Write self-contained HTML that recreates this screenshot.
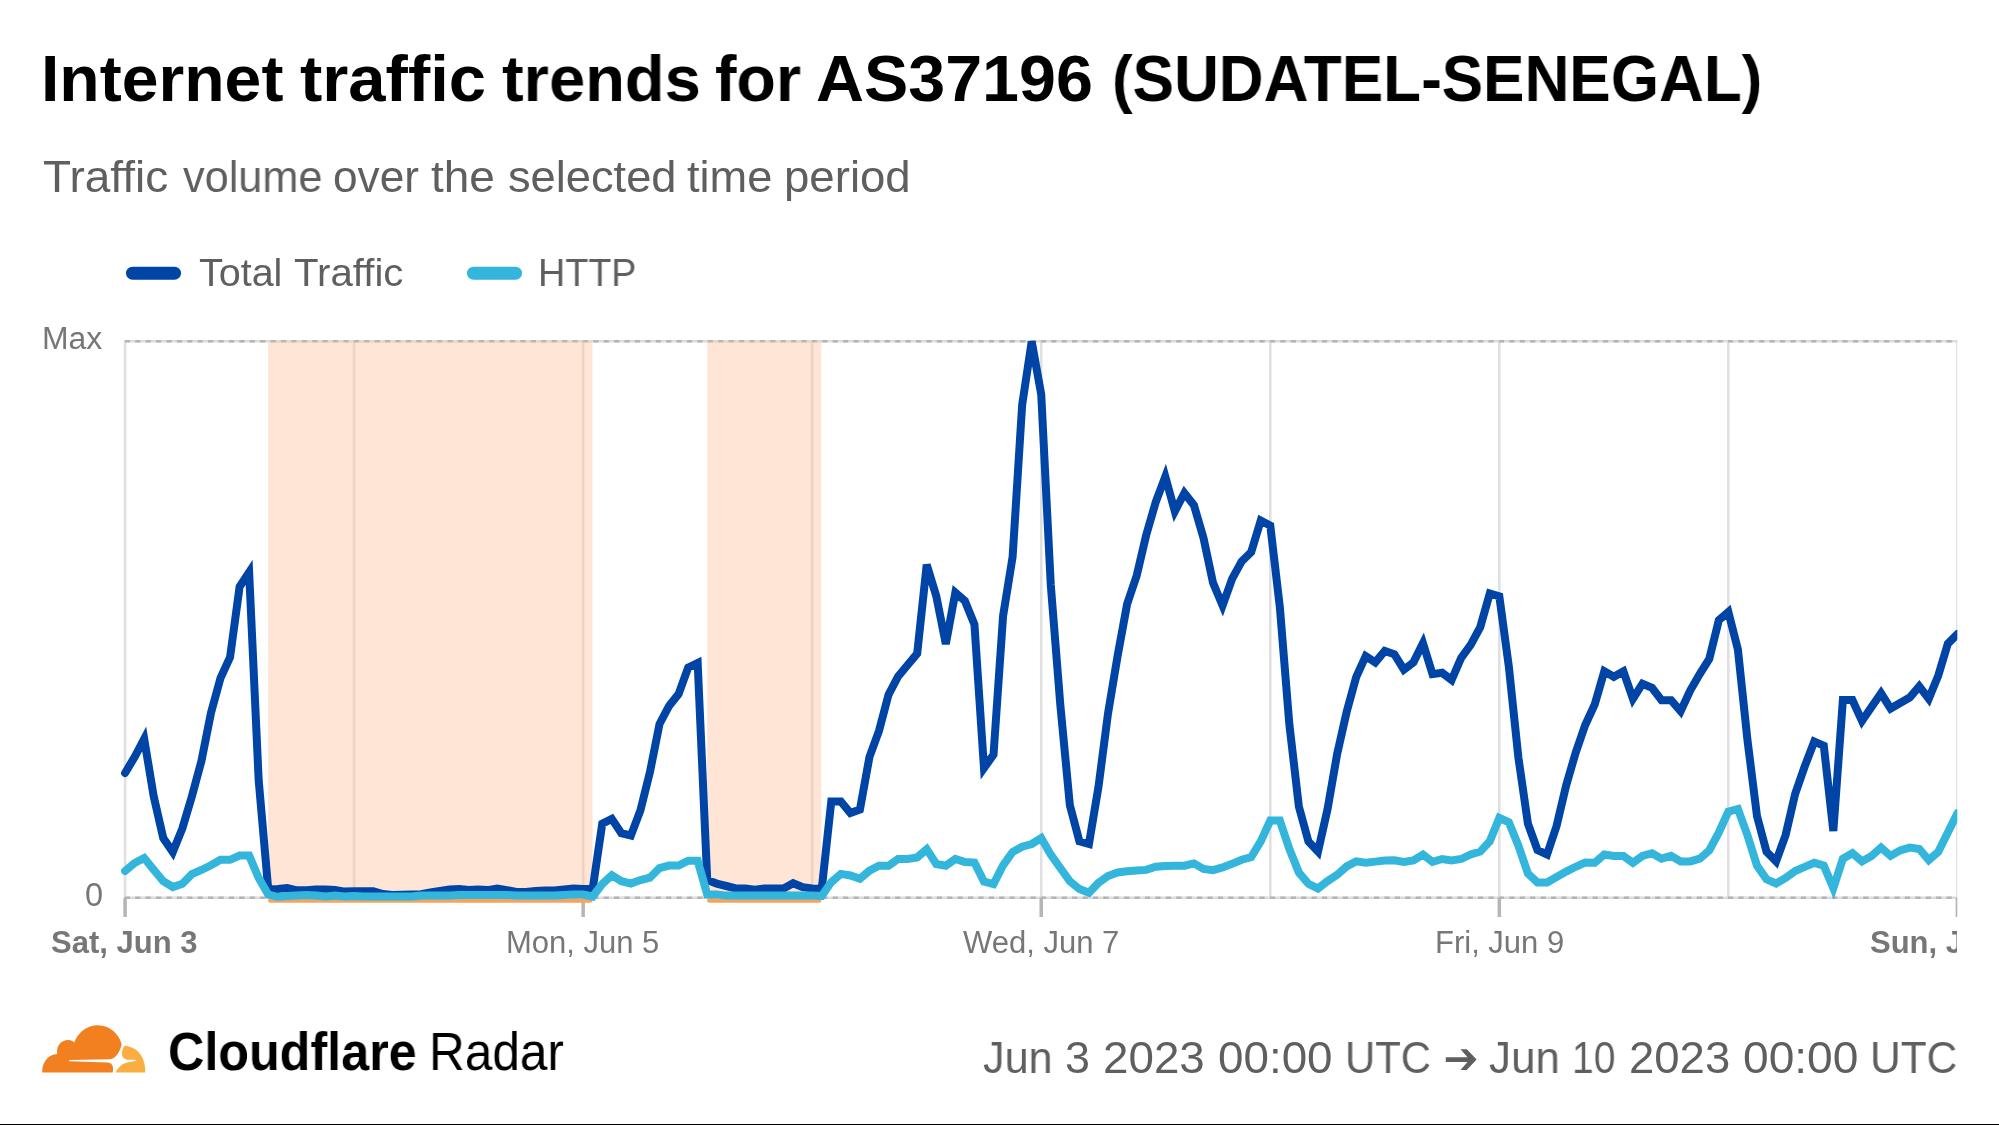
<!DOCTYPE html>
<html><head><meta charset="utf-8">
<style>
html,body{margin:0;padding:0;background:#fff;}
body{width:1999px;height:1125px;position:relative;overflow:hidden;font-family:"Liberation Sans",sans-serif;line-height:1;}
div{white-space:nowrap;will-change:transform;}
</style></head><body>
<div style="position:absolute;left:40.97px;top:45.58px;font-size:65.7px;font-weight:700;color:#000;letter-spacing:0px;transform:scaleX(1.0063);transform-origin:0 0;">Internet</div>
<div style="position:absolute;left:300.23px;top:45.58px;font-size:65.7px;font-weight:700;color:#000;letter-spacing:0px;transform:scaleX(1.0195);transform-origin:0 0;">traffic</div>
<div style="position:absolute;left:502.31px;top:45.58px;font-size:65.7px;font-weight:700;color:#000;letter-spacing:0px;transform:scaleX(0.9903);transform-origin:0 0;">trends</div>
<div style="position:absolute;left:715.32px;top:45.58px;font-size:65.7px;font-weight:700;color:#000;letter-spacing:0px;transform:scaleX(0.9825);transform-origin:0 0;">for</div>
<div style="position:absolute;left:815.98px;top:45.58px;font-size:65.7px;font-weight:700;color:#000;letter-spacing:0px;transform:scaleX(1.0107);transform-origin:0 0;">AS37196</div>
<div style="position:absolute;left:1111.57px;top:45.58px;font-size:65.7px;font-weight:700;color:#000;letter-spacing:0px;transform:scaleX(0.9447);transform-origin:0 0;">(SUDATEL-SENEGAL)</div>
<div style="position:absolute;left:42.94px;top:156.38px;font-size:43.5px;font-weight:400;color:#5f5f5f;letter-spacing:0px;transform:scaleX(1.0577);transform-origin:0 0;">Traffic</div>
<div style="position:absolute;left:182.50px;top:156.38px;font-size:43.5px;font-weight:400;color:#5f5f5f;letter-spacing:0px;transform:scaleX(0.9949);transform-origin:0 0;">volume</div>
<div style="position:absolute;left:333.47px;top:156.38px;font-size:43.5px;font-weight:400;color:#5f5f5f;letter-spacing:0px;transform:scaleX(1.0158);transform-origin:0 0;">over</div>
<div style="position:absolute;left:431.24px;top:156.38px;font-size:43.5px;font-weight:400;color:#5f5f5f;letter-spacing:0px;transform:scaleX(1.0561);transform-origin:0 0;">the</div>
<div style="position:absolute;left:508.36px;top:156.38px;font-size:43.5px;font-weight:400;color:#5f5f5f;letter-spacing:0px;transform:scaleX(1.0398);transform-origin:0 0;">selected</div>
<div style="position:absolute;left:687.36px;top:156.38px;font-size:43.5px;font-weight:400;color:#5f5f5f;letter-spacing:0px;transform:scaleX(1.0392);transform-origin:0 0;">time</div>
<div style="position:absolute;left:784.26px;top:156.38px;font-size:43.5px;font-weight:400;color:#5f5f5f;letter-spacing:0px;transform:scaleX(1.0478);transform-origin:0 0;">period</div>
<svg style="position:absolute;left:0;top:0" width="1999" height="1125" viewBox="0 0 1999 1125">
<defs><clipPath id="cp"><rect x="0" y="339.5" width="1957.3" height="660"/></clipPath></defs>
<polygon fill="#5f5f5f" points="1445.8,1057.2 1467.5,1057.2 1460.5,1049.3 1466.8,1049.3 1476.6,1059.4 1466.8,1069.9 1460.5,1069.9 1467.5,1061.9 1445.8,1061.9"/>
<line x1="132.5" y1="273.2" x2="174.5" y2="273.2" stroke="#0045a6" stroke-width="13" stroke-linecap="round"/>
<line x1="473.5" y1="273.2" x2="515.5" y2="273.2" stroke="#33b5dc" stroke-width="13" stroke-linecap="round"/>
<g clip-path="url(#cp)">
<line x1="125.08" y1="341.3" x2="125.08" y2="897.7" stroke="#e0e0e0" stroke-width="2.6"/><line x1="354.12" y1="341.3" x2="354.12" y2="897.7" stroke="#e0e0e0" stroke-width="2.6"/><line x1="583.16" y1="341.3" x2="583.16" y2="897.7" stroke="#e0e0e0" stroke-width="2.6"/><line x1="812.20" y1="341.3" x2="812.20" y2="897.7" stroke="#e0e0e0" stroke-width="2.6"/><line x1="1041.24" y1="341.3" x2="1041.24" y2="897.7" stroke="#e0e0e0" stroke-width="2.6"/><line x1="1270.28" y1="341.3" x2="1270.28" y2="897.7" stroke="#e0e0e0" stroke-width="2.6"/><line x1="1499.32" y1="341.3" x2="1499.32" y2="897.7" stroke="#e0e0e0" stroke-width="2.6"/><line x1="1728.36" y1="341.3" x2="1728.36" y2="897.7" stroke="#e0e0e0" stroke-width="2.6"/><line x1="1957.40" y1="341.3" x2="1957.40" y2="897.7" stroke="#e0e0e0" stroke-width="2.6"/>
<line x1="124.5" y1="341.3" x2="1957.5" y2="341.3" stroke="#dcdcdc" stroke-width="2.6"/><line x1="124.8" y1="341.3" x2="1957.5" y2="341.3" stroke="#b4b4b4" stroke-width="2.6" stroke-dasharray="5.2 5.21"/>
<line x1="124.5" y1="897.7" x2="1957.5" y2="897.7" stroke="#dcdcdc" stroke-width="2.6"/><line x1="124.8" y1="897.7" x2="1957.5" y2="897.7" stroke="#b4b4b4" stroke-width="2.6" stroke-dasharray="5.2 5.21"/>
<line x1="125.08" y1="897.7" x2="125.08" y2="917" stroke="#b5b5b5" stroke-width="3.5"/><line x1="583.16" y1="897.7" x2="583.16" y2="917" stroke="#b5b5b5" stroke-width="3.5"/><line x1="1041.24" y1="897.7" x2="1041.24" y2="917" stroke="#b5b5b5" stroke-width="3.5"/><line x1="1499.32" y1="897.7" x2="1499.32" y2="917" stroke="#b5b5b5" stroke-width="3.5"/><line x1="1957.40" y1="897.7" x2="1957.40" y2="917" stroke="#b5b5b5" stroke-width="3.5"/>
<rect x="268.2" y="341.3" width="324.3" height="559.7" fill="#fcc099" fill-opacity="0.41"/><path d="M268.2,341.3 L268.2,897 Q268.2,901 272.2,901 L588.5,901 Q592.5,901 592.5,897" fill="none" stroke="none"/><rect x="707.2" y="341.3" width="114.09999999999991" height="559.7" fill="#fcc099" fill-opacity="0.41"/><path d="M707.2,341.3 L707.2,897 Q707.2,901 711.2,901 L817.3,901 Q821.3,901 821.3,897" fill="none" stroke="none"/>
<line x1="270.2" y1="900.7" x2="590.5" y2="900.7" stroke="#f7a35c" stroke-width="4.2" stroke-linecap="round"/><line x1="709.2" y1="900.7" x2="819.3" y2="900.7" stroke="#f7a35c" stroke-width="4.2" stroke-linecap="round"/>
<polyline fill="none" stroke="#0045a6" stroke-width="8" stroke-linejoin="miter" stroke-linecap="round" stroke-miterlimit="4" points="125.08,773.00 134.62,757.00 144.17,738.80 153.71,796.40 163.25,838.00 172.80,852.00 182.34,828.40 191.88,796.40 201.43,761.00 210.97,713.00 220.51,678.00 230.06,657.20 239.60,586.80 249.14,572.30 258.69,780.40 268.23,889.40 277.77,888.90 287.32,888.00 296.86,890.30 306.40,890.30 315.95,889.40 325.49,889.40 335.03,889.90 344.58,891.60 354.12,891.20 363.66,891.20 373.21,891.20 382.75,894.00 392.29,894.90 401.84,894.80 411.38,894.50 420.92,894.30 430.47,892.50 440.01,891.00 449.55,889.60 459.10,889.10 468.64,890.10 478.18,889.60 487.73,890.10 497.27,888.60 506.81,890.10 516.36,892.00 525.90,892.00 535.44,891.00 544.99,890.50 554.53,890.50 564.07,889.60 573.62,888.60 583.16,889.10 592.70,888.80 602.25,823.60 611.79,818.90 621.33,833.20 630.88,835.60 640.42,810.40 649.96,772.00 659.51,724.00 669.05,706.00 678.59,694.00 688.14,667.60 697.68,663.00 707.22,880.00 716.77,883.60 726.31,886.00 735.85,888.40 745.40,888.40 754.94,889.60 764.48,888.40 774.03,888.40 783.57,888.40 793.11,883.20 802.66,887.20 812.20,888.50 821.74,889.00 831.29,801.40 840.83,801.40 850.37,813.00 859.92,809.50 869.46,757.00 879.00,730.80 888.55,694.60 898.09,676.50 907.63,665.00 917.18,653.50 926.72,564.70 936.26,596.00 945.81,644.00 955.35,592.60 964.89,600.90 974.44,624.50 983.98,768.00 993.52,754.70 1003.07,616.00 1012.61,556.90 1022.15,404.80 1031.70,341.50 1041.24,394.50 1050.78,585.00 1060.33,705.00 1069.87,805.30 1079.41,841.30 1088.96,844.00 1098.50,786.70 1108.04,713.30 1117.59,656.00 1127.13,604.00 1136.67,575.70 1146.22,535.00 1155.76,502.00 1165.30,476.60 1174.85,511.30 1184.39,493.00 1193.93,505.20 1203.48,537.90 1213.02,582.90 1222.56,605.50 1232.11,578.80 1241.65,561.40 1251.19,552.20 1260.74,520.50 1270.28,525.60 1279.82,607.00 1289.37,724.50 1298.91,806.70 1308.45,841.50 1318.00,851.50 1327.54,809.10 1337.08,754.40 1346.63,712.00 1356.17,677.20 1365.71,656.10 1375.26,662.40 1384.80,650.90 1394.34,654.20 1403.89,669.70 1413.43,662.40 1422.97,643.30 1432.52,674.10 1442.06,672.70 1451.60,680.00 1461.15,658.00 1470.69,644.80 1480.23,627.20 1489.78,593.50 1499.32,596.40 1508.86,666.80 1518.41,757.70 1527.95,823.70 1537.49,850.10 1547.04,854.50 1556.58,826.00 1566.12,785.60 1575.67,752.60 1585.21,725.00 1594.75,704.40 1604.30,671.30 1613.84,676.80 1623.38,671.30 1632.93,698.80 1642.47,683.70 1652.01,687.80 1661.56,700.20 1671.10,700.20 1680.64,711.20 1690.19,690.60 1699.73,674.00 1709.27,658.90 1718.82,620.30 1728.36,612.00 1737.90,649.50 1747.45,740.00 1756.99,816.00 1766.53,851.80 1776.08,861.40 1785.62,835.00 1795.16,793.90 1804.71,766.40 1814.25,741.60 1823.79,745.70 1833.34,831.00 1842.88,700.10 1852.42,700.10 1861.97,720.90 1871.51,707.10 1881.05,693.30 1890.60,708.50 1900.14,703.00 1909.68,697.50 1919.23,686.40 1928.77,698.80 1938.31,675.40 1947.86,643.70 1957.40,634.10"/>
<polyline fill="none" stroke="#33b5dc" stroke-width="8" stroke-linejoin="miter" stroke-linecap="round" stroke-miterlimit="4" points="125.08,871.00 134.62,863.00 144.17,858.00 153.71,869.80 163.25,881.20 172.80,887.00 182.34,883.80 191.88,874.20 201.43,870.00 210.97,865.20 220.51,859.80 230.06,859.80 239.60,855.60 249.14,855.60 258.69,878.00 268.23,894.60 277.77,896.80 287.32,896.00 296.86,895.50 306.40,895.00 315.95,895.50 325.49,896.40 335.03,895.50 344.58,896.40 354.12,896.00 363.66,896.50 373.21,896.50 382.75,896.50 392.29,896.50 401.84,896.50 411.38,896.50 420.92,895.50 430.47,895.50 440.01,895.50 449.55,895.50 459.10,895.00 468.64,895.00 478.18,895.00 487.73,895.00 497.27,895.00 506.81,895.00 516.36,895.50 525.90,895.50 535.44,895.50 544.99,895.50 554.53,895.50 564.07,895.00 573.62,894.50 583.16,894.50 592.70,896.50 602.25,884.00 611.79,875.20 621.33,881.20 630.88,883.60 640.42,880.10 649.96,877.70 659.51,868.00 669.05,865.60 678.59,865.60 688.14,860.80 697.68,860.80 707.22,894.40 716.77,894.40 726.31,895.60 735.85,895.60 745.40,895.60 754.94,895.60 764.48,895.60 774.03,895.60 783.57,895.60 793.11,895.60 802.66,895.60 812.20,895.60 821.74,896.00 831.29,882.10 840.83,873.90 850.37,875.50 859.92,878.80 869.46,870.60 879.00,865.70 888.55,865.70 898.09,859.00 907.63,859.00 917.18,857.40 926.72,849.20 936.26,864.00 945.81,865.70 955.35,859.00 964.89,862.00 974.44,862.50 983.98,881.50 993.52,884.00 1003.07,865.30 1012.61,852.00 1022.15,846.70 1031.70,844.00 1041.24,838.00 1050.78,854.70 1060.33,868.00 1069.87,881.30 1079.41,889.00 1088.96,892.70 1098.50,882.70 1108.04,876.00 1117.59,872.50 1127.13,871.30 1136.67,870.50 1146.22,869.90 1155.76,866.70 1165.30,865.90 1174.85,865.70 1184.39,865.70 1193.93,863.40 1203.48,868.90 1213.02,870.10 1222.56,867.40 1232.11,863.80 1241.65,859.70 1251.19,857.00 1260.74,841.30 1270.28,820.50 1279.82,820.50 1289.37,849.00 1298.91,872.60 1308.45,883.80 1318.00,888.50 1327.54,881.10 1337.08,874.90 1346.63,866.40 1356.17,861.40 1365.71,862.70 1375.26,861.60 1384.80,860.60 1394.34,860.30 1403.89,861.90 1413.43,860.40 1422.97,854.50 1432.52,861.90 1442.06,859.00 1451.60,860.40 1461.15,859.00 1470.69,854.50 1480.23,851.60 1489.78,841.30 1499.32,817.90 1508.86,822.30 1518.41,845.70 1527.95,873.60 1537.49,882.40 1547.04,882.40 1556.58,877.00 1566.12,871.60 1575.67,866.80 1585.21,862.60 1594.75,862.80 1604.30,854.50 1613.84,855.90 1623.38,855.90 1632.93,862.80 1642.47,855.90 1652.01,853.20 1661.56,858.70 1671.10,855.90 1680.64,861.40 1690.19,861.40 1699.73,858.70 1709.27,850.40 1718.82,832.50 1728.36,811.60 1737.90,809.00 1747.45,835.20 1756.99,865.60 1766.53,879.30 1776.08,883.50 1785.62,878.00 1795.16,871.00 1804.71,866.90 1814.25,862.80 1823.79,865.60 1833.34,888.00 1842.88,858.70 1852.42,853.20 1861.97,861.40 1871.51,855.90 1881.05,847.60 1890.60,855.90 1900.14,850.40 1909.68,847.60 1919.23,849.00 1928.77,860.00 1938.31,851.80 1947.86,832.50 1957.40,813.20"/>
</g>
</svg>
<div style="position:absolute;left:198.66px;top:253.83px;font-size:38.0px;font-weight:400;color:#5f5f5f;letter-spacing:0px;transform:scaleX(1.0389);transform-origin:0 0;">Total</div>
<div style="position:absolute;left:294.04px;top:253.83px;font-size:38.0px;font-weight:400;color:#5f5f5f;letter-spacing:0px;transform:scaleX(1.0574);transform-origin:0 0;">Traffic</div>
<div style="position:absolute;left:537.50px;top:253.83px;font-size:38.0px;font-weight:400;color:#5f5f5f;letter-spacing:0px;transform:scaleX(0.9925);transform-origin:0 0;">HTTP</div>
<div style="position:absolute;left:41.70px;top:323.16px;font-size:31px;font-weight:400;color:#777;letter-spacing:0px;transform:scaleX(1.03);transform-origin:0 0;">Max</div>
<div style="position:absolute;left:85.00px;top:879.49px;font-size:32.5px;font-weight:400;color:#777;letter-spacing:0px;">0</div>
<div style="position:absolute;left:51.20px;top:926.56px;font-size:31px;font-weight:700;color:#777;letter-spacing:0px;">Sat, Jun 3</div>
<div style="position:absolute;left:506.00px;top:926.56px;font-size:31px;font-weight:400;color:#777;letter-spacing:0px;">Mon, Jun 5</div>
<div style="position:absolute;left:962.60px;top:926.56px;font-size:31px;font-weight:400;color:#777;letter-spacing:0px;">Wed, Jun 7</div>
<div style="position:absolute;left:1435.20px;top:926.56px;font-size:31px;font-weight:400;color:#777;letter-spacing:0px;">Fri, Jun 9</div>
<div style="position:absolute;left:1800px;top:0;width:157px;height:1000px;overflow:hidden"><div style="position:absolute;left:69.70px;top:926.56px;font-size:31px;font-weight:700;color:#777;letter-spacing:0px;">Sun, Jun 11</div></div>
<svg style="position:absolute;left:35px;top:1015px" width="120" height="65" viewBox="0 0 1999 1083">
<path fill="#f38020" d="M120,955 C112,790 225,652 368,648 C352,490 455,412 560,416 C605,420 640,440 655,458 C715,285 870,170 1045,170 C1250,172 1405,320 1445,492 C1405,640 1335,732 1250,737 L578,748 C565,755 565,768 580,770 L1215,790 C1295,800 1312,870 1295,958 L120,958 Z"/>
<path fill="#faae40" d="M1345,958 C1385,868 1450,800 1560,786 L1690,762 C1690,750 1660,748 1540,745 C1455,735 1440,662 1452,600 L1485,512 C1700,525 1845,690 1838,958 Z"/>
</svg>
<div style="position:absolute;left:167.50px;top:1024.71px;font-size:53.5px;font-weight:700;color:#000;letter-spacing:0px;transform:scaleX(0.94);transform-origin:0 0;">Cloudflare</div>
<div style="position:absolute;left:428.50px;top:1024.71px;font-size:53.5px;font-weight:400;color:#000;letter-spacing:0px;transform:scaleX(0.925);transform-origin:0 0;">Radar</div>
<div style="position:absolute;left:982.83px;top:1036.10px;font-size:44.3px;font-weight:400;color:#5f5f5f;letter-spacing:0px;transform:scaleX(0.9735);transform-origin:0 0;">Jun</div>
<div style="position:absolute;left:1065.47px;top:1036.10px;font-size:44.3px;font-weight:400;color:#5f5f5f;letter-spacing:0px;transform:scaleX(1.0142);transform-origin:0 0;">3</div>
<div style="position:absolute;left:1102.93px;top:1036.10px;font-size:44.3px;font-weight:400;color:#5f5f5f;letter-spacing:0px;transform:scaleX(1.0326);transform-origin:0 0;">2023</div>
<div style="position:absolute;left:1217.53px;top:1036.10px;font-size:44.3px;font-weight:400;color:#5f5f5f;letter-spacing:0px;transform:scaleX(1.0336);transform-origin:0 0;">00:00</div>
<div style="position:absolute;left:1344.86px;top:1036.10px;font-size:44.3px;font-weight:400;color:#5f5f5f;letter-spacing:0px;transform:scaleX(0.9453);transform-origin:0 0;">UTC</div>
<div style="position:absolute;left:1489.01px;top:1036.10px;font-size:44.3px;font-weight:400;color:#5f5f5f;letter-spacing:0px;transform:scaleX(0.9926);transform-origin:0 0;">Jun</div>
<div style="position:absolute;left:1572.36px;top:1036.10px;font-size:44.3px;font-weight:400;color:#5f5f5f;letter-spacing:0px;transform:scaleX(0.8799);transform-origin:0 0;">10</div>
<div style="position:absolute;left:1629.25px;top:1036.10px;font-size:44.3px;font-weight:400;color:#5f5f5f;letter-spacing:0px;transform:scaleX(1.0273);transform-origin:0 0;">2023</div>
<div style="position:absolute;left:1743.02px;top:1036.10px;font-size:44.3px;font-weight:400;color:#5f5f5f;letter-spacing:0px;transform:scaleX(1.0411);transform-origin:0 0;">00:00</div>
<div style="position:absolute;left:1869.82px;top:1036.10px;font-size:44.3px;font-weight:400;color:#5f5f5f;letter-spacing:0px;transform:scaleX(0.9593);transform-origin:0 0;">UTC</div>
<div style="position:absolute;left:0;top:1124px;width:1999px;height:1px;background:#000"></div>
</body></html>
